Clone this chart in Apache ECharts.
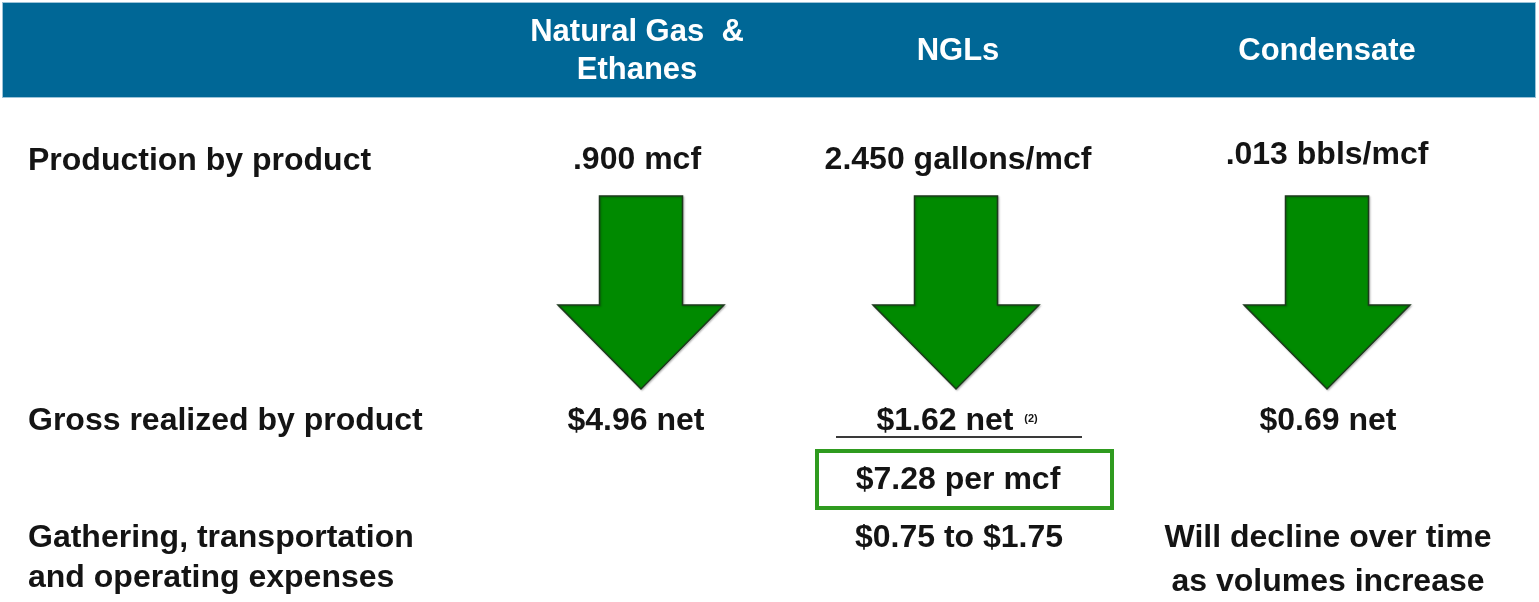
<!DOCTYPE html>
<html>
<head>
<meta charset="utf-8">
<script src="https://cdn.jsdelivr.net/npm/echarts@6/dist/echarts.min.js"></script>
<style>
html,body{margin:0;padding:0;background:#fff;}
#main{width:1539px;height:602px;}
</style>
</head>
<body>
<div id="main"></div>
<script>
// ---- content ----
const columns = ['Natural Gas  &\nEthanes', 'NGLs', 'Condensate'];
const rowLabels = ['Production by product', 'Gross realized by product', 'Gathering, transportation\nand operating expenses'];
const production = ['.900 mcf', '2.450 gallons/mcf', '.013 bbls/mcf'];
const grossRealized = ['$4.96 net', '$1.62 net', '$0.69 net'];
const grossNotes = ['', '(2)', ''];
const totalPerMcf = ['', '$7.28 per mcf', ''];
const expenses = ['', '$0.75 to $1.75', 'Will decline over time\nas volumes increase'];

// ---- layout (pixel-space of a hidden 1539x602 grid) ----
const colX = [637, 958, 1327];
const arrowX = [641, 956, 1327];
const prodY = [160, 160, 155];
const grossX = [636, 945, 1328];
const HFONT = 'bold 31px "Liberation Sans", Arial, sans-serif';
const FONT = 'bold 32px "Liberation Sans", Arial, sans-serif';
const INK = '#141414';

const chart = echarts.init(document.getElementById('main'), null, {renderer: 'canvas'});

function textEl(api, x, y, text, opts) {
  const p = api.coord([x, y]);
  return {
    type: 'text',
    style: Object.assign({
      text: text, x: p[0], y: p[1], fill: INK, font: FONT,
      align: 'center', verticalAlign: 'middle'
    }, opts || {})
  };
}

const option = {
  animation: false,
  backgroundColor: '#ffffff',
  grid: {left: 0, right: 0, top: 0, bottom: 0},
  xAxis: {type: 'value', min: 0, max: 1539, show: false},
  yAxis: {type: 'value', min: 0, max: 602, inverse: true, show: false},
  series: [
    // header band + column titles
    {
      type: 'custom',
      data: [[0]],
      renderItem: function (params, api) {
        const a = api.coord([3, 3]), b = api.coord([1535, 97]);
        const children = [
          {type: 'rect', shape: {x: a[0] - 1, y: a[1] - 1, width: b[0] - a[0] + 2, height: b[1] - a[1] + 2}, style: {fill: '#9cc3d8'}},
          {type: 'rect', shape: {x: a[0], y: a[1], width: b[0] - a[0], height: b[1] - a[1]}, style: {fill: '#006796'}}
        ];
        columns.forEach(function (c, i) {
          children.push(textEl(api, colX[i], 51, c, {fill: '#ffffff', font: HFONT, lineHeight: 38}));
        });
        return {type: 'group', children: children};
      }
    },
    // arrows
    {
      type: 'custom',
      data: arrowX.map(function (x) { return [x]; }),
      renderItem: function (params, api) {
        const cx = api.value(0);
        const sw = 41.5, hw = 83, top = 196, sh = 305, tip = 389;
        const pts = [
          [cx - sw, top], [cx + sw, top], [cx + sw, sh], [cx + hw, sh],
          [cx, tip], [cx - hw, sh], [cx - sw, sh]
        ].map(function (p) { return api.coord(p); });
        return {
          type: 'polygon',
          shape: {points: pts},
          style: {fill: '#008a00', stroke: '#1c3a1c', lineWidth: 1.5,
                  shadowColor: 'rgba(0,0,0,0.25)', shadowBlur: 2, shadowOffsetX: 1, shadowOffsetY: 1}
        };
      }
    },
    // texts, rule and total box
    {
      type: 'custom',
      data: [[0]],
      renderItem: function (params, api) {
        const ch = [];
        ch.push(textEl(api, 28, 161, rowLabels[0], {align: 'left'}));
        ch.push(textEl(api, 28, 421, rowLabels[1], {align: 'left'}));
        ch.push(textEl(api, 28, 558, rowLabels[2], {align: 'left', lineHeight: 40}));
        production.forEach(function (t, i) { ch.push(textEl(api, colX[i], prodY[i], t)); });
        grossRealized.forEach(function (t, i) { ch.push(textEl(api, grossX[i], 421, t)); });
        grossNotes.forEach(function (t, i) {
          if (t) ch.push(textEl(api, 1031, 419, t, {font: 'bold 11px "Liberation Sans", Arial, sans-serif'}));
        });
        // rule under NGL value
        const l1 = api.coord([836, 437]), l2 = api.coord([1082, 437]);
        ch.push({type: 'line', shape: {x1: l1[0], y1: l1[1], x2: l2[0], y2: l2[1]}, style: {stroke: '#3a3a3a', lineWidth: 2}});
        totalPerMcf.forEach(function (t, i) {
          if (!t) return;
          const a = api.coord([817, 451]), b = api.coord([1112, 508]);
          ch.push({type: 'rect', shape: {x: a[0], y: a[1], width: b[0] - a[0], height: b[1] - a[1]}, style: {fill: '#ffffff', stroke: '#2f9b1f', lineWidth: 4}});
          ch.push(textEl(api, colX[i], 480, t));
        });
        expenses.forEach(function (t, i) {
          if (!t) return;
          const lines = t.split('\n').length;
          ch.push(textEl(api, colX[i] + 1, lines > 1 ? 560 : 538, t, {lineHeight: 44}));
        });
        return {type: 'group', children: ch};
      }
    }
  ]
};
chart.setOption(option);
</script>
</body>
</html>
